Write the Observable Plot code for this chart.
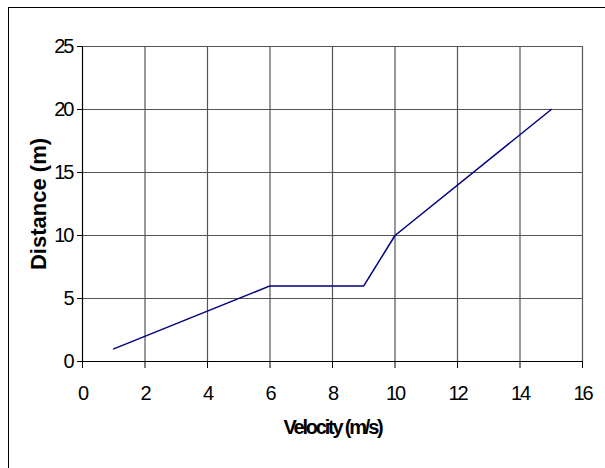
<!DOCTYPE html>
<html>
<head>
<meta charset="utf-8">
<script src="https://cdn.jsdelivr.net/npm/d3@7"></script>
<script src="https://cdn.jsdelivr.net/npm/@observablehq/plot@0.6"></script>
<style>
  html, body { margin: 0; padding: 0; background: #fff; }
  #wrap { position: relative; width: 605px; height: 468px; overflow: hidden; }
  #border { position: absolute; left: 8px; top: 7px; width: 700px; height: 700px; border-left: 1.5px solid #000; border-top: 1.5px solid #000; }
  #chart { position: absolute; left: 0; top: 0; }
  #chart svg text { font-family: "Liberation Sans", Arial, sans-serif; fill: #000; }
  #chart svg g[aria-label="x-axis tick label"] text, #chart svg g[aria-label="y-axis tick label"] text { font-size: 20px; letter-spacing: -2px; }
  #chart svg g[aria-label="y-axis label"] text { font-size: 22px; font-weight: bold; letter-spacing: 0px; }
  #chart svg g[aria-label="x-axis label"] text { font-size: 20px; font-weight: bold; letter-spacing: -2.2px; }
</style>
</head>
<body>
<div id="wrap"><div id="border"></div><div id="chart"></div></div>
<script>
const velocity = [1, 6, 9, 10, 15];
const distance = [1, 6, 6, 10, 20];
const xTicks = [0, 2, 4, 6, 8, 10, 12, 14, 16];
const yTicks = [0, 5, 10, 15, 20, 25];

const data = velocity.map((v, i) => ({v, d: distance[i]}));

const chart = Plot.plot({
  width: 605,
  height: 468,
  marginLeft: 82,
  marginRight: 23,
  marginTop: 46,
  marginBottom: 107,
  style: {fontFamily: "Liberation Sans, Arial, sans-serif", color: "#000", background: "transparent"},
  x: {domain: [0, 16], ticks: xTicks},
  y: {domain: [0, 25], ticks: yTicks},
  marks: [
    Plot.ruleX(xTicks.slice(1), {stroke: "#555", strokeWidth: 1.2}),
    Plot.ruleY(yTicks.slice(1), {stroke: "#555", strokeWidth: 1.2}),
    Plot.ruleX([0], {stroke: "#000", strokeWidth: 1.2}),
    Plot.ruleY([0], {stroke: "#000", strokeWidth: 1.2}),
    Plot.axisX({ticks: xTicks, tickSize: 7, tickPadding: 17, stroke: "#000", strokeWidth: 1,
      label: "Velocity (m/s)", labelAnchor: "center", labelArrow: "none", labelOffset: 72}),
    Plot.axisY({ticks: yTicks, tickSize: 5, tickPadding: 5, stroke: "#000", strokeWidth: 1,
      label: "Distance (m)", labelAnchor: "center", labelArrow: "none", labelOffset: 52}),
    Plot.line(data, {x: "v", y: "d", stroke: "#000080", strokeWidth: 1.5})
  ]
});
document.getElementById("chart").appendChild(chart);
</script>
</body>
</html>
